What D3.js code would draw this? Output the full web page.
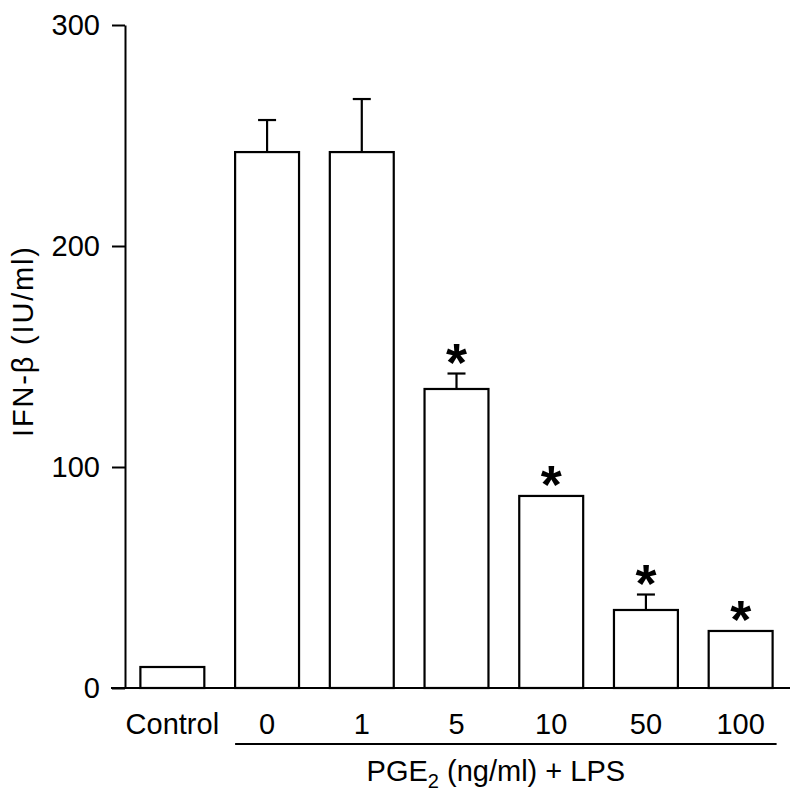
<!DOCTYPE html>
<html>
<head>
<meta charset="utf-8">
<script src="https://cdn.jsdelivr.net/npm/d3@7"></script>
<style>
  body { margin: 0; background: #fff; }
  text { font-family: "Liberation Sans", Arial, sans-serif; fill: #000; }
</style>
</head>
<body>
<div id="chart"></div>
<script>
// values
const categories = ["Control", "0", "1", "5", "10", "50", "100"];
const means = [9.5, 242.5, 242.5, 135.3, 86.9, 35.3, 25.8];
const errors = [0, 14.5, 24, 7, 0, 7, 0];
const significant = [false, false, false, true, true, true, true];
const yTicks = [0, 100, 200, 300];

let width = 800;
let height = 794;

let svg = d3.select("#chart")
            .append("svg")
            .attr("width", width)
            .attr("height", height);

const x = d3.scaleBand()
    .domain(categories)
    .range([125, 788])
    .paddingInner(0.325)
    .paddingOuter(0.1625);

const y = d3.scaleLinear()
    .domain([0, 300])
    .range([688, 25]);

// y axis
let yAxis = svg.append("g")
    .attr("transform", "translate(125,0)")
    .call(d3.axisLeft(y).tickValues(yTicks).tickSize(13).tickSizeOuter(0).tickPadding(12));

yAxis.select(".domain").attr("stroke", "#000").attr("stroke-width", 2);
yAxis.selectAll(".tick line").attr("stroke", "#000").attr("stroke-width", 2);
yAxis.selectAll(".tick text")
    .style("font-size", "29px")
    .style("font-family", "'Liberation Sans', Arial, sans-serif")
    .attr("fill", "#000");

// baseline
svg.append("line")
    .attr("x1", x.range()[0] - 14)
    .attr("x2", x.range()[1] + 2)
    .attr("y1", y(0))
    .attr("y2", y(0))
    .attr("stroke", "#000")
    .attr("stroke-width", 2);

let data = categories.map(function(c, i) {
    return { cat: c, mean: means[i], err: errors[i], sig: significant[i] };
});

// bars
svg.append("g")
    .selectAll("rect")
    .data(data)
    .enter().append("rect")
    .attr("x", function(d) { return x(d.cat); })
    .attr("y", function(d) { return y(d.mean); })
    .attr("width", x.bandwidth())
    .attr("height", function(d) { return y(0) - y(d.mean); })
    .attr("fill", "#fff")
    .attr("stroke", "#000")
    .attr("stroke-width", 2.2);

// error bars (upper half only)
let errG = svg.append("g")
    .selectAll("g")
    .data(data.filter(function(d) { return d.err > 0; }))
    .enter().append("g")
    .attr("stroke", "#000")
    .attr("stroke-width", 2.2);

errG.append("line")
    .attr("x1", function(d) { return x(d.cat) + x.bandwidth() / 2; })
    .attr("x2", function(d) { return x(d.cat) + x.bandwidth() / 2; })
    .attr("y1", function(d) { return y(d.mean); })
    .attr("y2", function(d) { return y(d.mean + d.err); });

errG.append("line")
    .attr("x1", function(d) { return x(d.cat) + x.bandwidth() / 2 - 9; })
    .attr("x2", function(d) { return x(d.cat) + x.bandwidth() / 2 + 9; })
    .attr("y1", function(d) { return y(d.mean + d.err); })
    .attr("y2", function(d) { return y(d.mean + d.err); });

// significance stars
svg.append("g")
    .selectAll("text")
    .data(data.filter(function(d) { return d.sig; }))
    .enter().append("text")
    .attr("x", function(d) { return x(d.cat) + x.bandwidth() / 2; })
    .attr("y", function(d) { return y(d.mean + d.err) + 7; })
    .attr("text-anchor", "middle")
    .style("font-size", "54px")
    .style("font-weight", "bold")
    .text("*");

// category labels
svg.append("g")
    .selectAll("text")
    .data(categories)
    .enter().append("text")
    .attr("x", function(d) { return x(d) + x.bandwidth() / 2; })
    .attr("y", 734)
    .attr("text-anchor", "middle")
    .style("font-size", "29px")
    .text(function(d) { return d; });

// group underline for PGE2 treatments
svg.append("line")
    .attr("x1", x("0"))
    .attr("x2", x("100") + x.bandwidth() + 4)
    .attr("y1", 744)
    .attr("y2", 744)
    .attr("stroke", "#000")
    .attr("stroke-width", 2.2);

let groupLabel = svg.append("text")
    .attr("x", (x("0") + x("100") + x.bandwidth()) / 2 - 8)
    .attr("y", 781)
    .attr("text-anchor", "middle")
    .style("font-size", "29px");
groupLabel.append("tspan").text("PGE");
groupLabel.append("tspan").attr("dy", 7).style("font-size", "20px").text("2");
groupLabel.append("tspan").attr("dy", -7).text(" (ng/ml) + LPS");

// y axis title
svg.append("text")
    .attr("transform", "translate(33,342) rotate(-90)")
    .attr("text-anchor", "middle")
    .attr("textLength", 190)
    .attr("lengthAdjust", "spacing")
    .style("font-size", "29px")
    .text("IFN-β (IU/ml)");
</script>
</body>
</html>
